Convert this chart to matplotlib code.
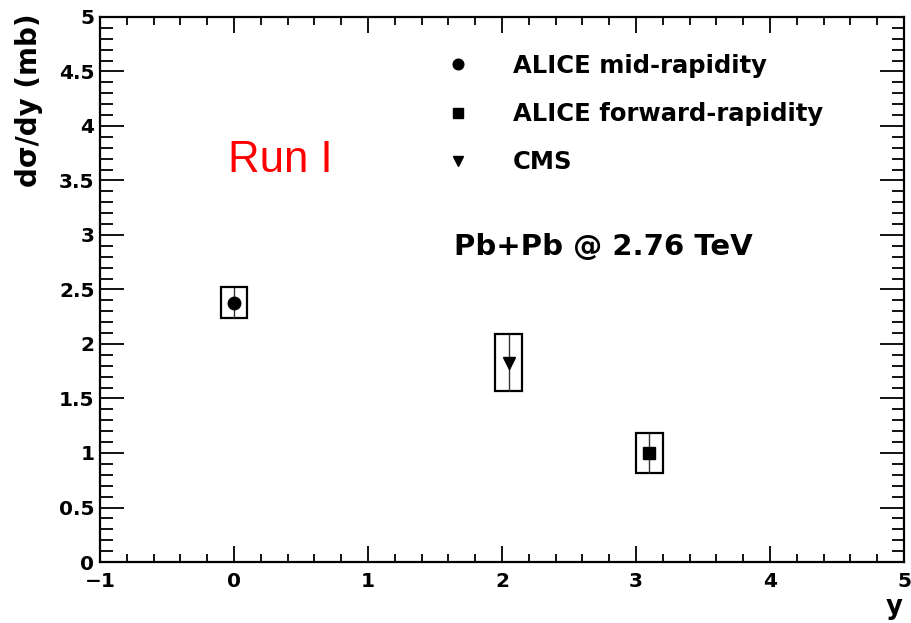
import matplotlib.pyplot as plt
from matplotlib.patches import Rectangle
from matplotlib.ticker import MultipleLocator

plt.rcParams['font.family'] = ['DejaVu Sans']

# cross sections per rapidity bin (mb)
labels = ['ALICE mid-rapidity', 'ALICE forward-rapidity', 'CMS']
markers = ['o', 's', 'v']
rapidity = [0.0, 3.1, 2.05]
dsigma_dy = [2.38, 1.0, 1.83]
stat_err = [0.14, 0.18, 0.26]
syst_err = [0.145, 0.185, 0.265]
box_halfwidth = [0.1, 0.1, 0.1]

fig = plt.figure(figsize=(9.12, 6.23), dpi=100)
ax = fig.add_axes([100/912, 1-562/623, 804/912, 545/623])

for lab, m, x, y, st, sy, hw in zip(labels, markers, rapidity, dsigma_dy,
                                     stat_err, syst_err, box_halfwidth):
    # systematic box
    ax.add_patch(Rectangle((x-hw, y-sy), 2*hw, 2*sy, fill=False,
                           edgecolor='black', linewidth=1.6, zorder=2))
    # statistical error bar
    ax.errorbar([x], [y], yerr=[st], fmt='none', ecolor='#333333',
                elinewidth=1.0, capsize=0, zorder=3)
    ax.plot([x], [y], linestyle='none', marker=m, color='black',
            markersize=9 if m != 'v' else 8, zorder=4, label=lab)

ax.set_xlim(-1, 5)
ax.set_ylim(0, 5)

ax.xaxis.set_major_locator(MultipleLocator(1))
ax.xaxis.set_minor_locator(MultipleLocator(0.2))
ax.yaxis.set_major_locator(MultipleLocator(0.5))
ax.yaxis.set_minor_locator(MultipleLocator(0.1))
ax.yaxis.set_major_formatter(plt.FuncFormatter(lambda v, p: f'{v:g}'))
ax.xaxis.set_major_formatter(plt.FuncFormatter(lambda v, p: f'{v:g}'.replace('-', '\u2212')))

ax.tick_params(axis='both', which='both', direction='in', top=True, right=True,
               width=1.3, labelsize=14.5)
ax.tick_params(axis='x', which='major', length=11.5, pad=7)
ax.tick_params(axis='x', which='minor', length=6)
ax.tick_params(axis='y', which='major', length=17, pad=4)
ax.tick_params(axis='y', which='minor', length=9)
for t in ax.get_xticklabels() + ax.get_yticklabels():
    t.set_fontweight('bold')
for s in ax.spines.values():
    s.set_linewidth(1.6)

ax.set_ylabel('d\u03c3/dy (mb)', fontsize=20, fontweight='bold', loc='top')
ax.yaxis.set_label_coords(-0.071, 1.007)
ax.set_xlabel('y', fontsize=18.5, fontweight='bold', loc='right')
ax.xaxis.set_label_coords(0.9975, -0.058)

ax.text(-0.045, 3.575, 'Run I', color='red', fontsize=31.5, ha='left',
        va='baseline', family='Liberation Sans')
ax.text(1.64, 2.82, 'Pb+Pb @ 2.76 TeV', fontsize=21, fontweight='bold',
        ha='left', va='baseline')

handles, labs = ax.get_legend_handles_labels()
leg = ax.legend(handles, labs, loc='upper left', bbox_to_anchor=(0.403, 0.9725),
                frameon=False, prop={'size': 17.5, 'weight': 'bold'},
                handlelength=1.0, handletextpad=1.77, labelspacing=1.0,
                markerscale=0.85)

fig.savefig('out.png', dpi=100)
